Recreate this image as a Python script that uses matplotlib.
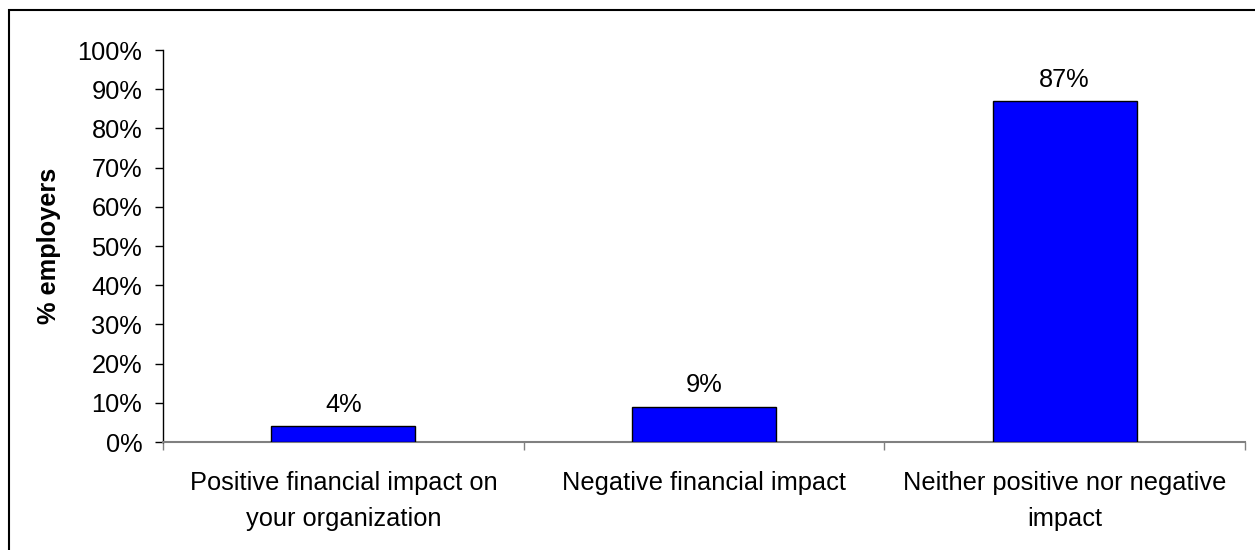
import matplotlib
matplotlib.use("Agg")
import matplotlib.pyplot as plt
from matplotlib.patches import Rectangle
from matplotlib.ticker import FixedLocator, NullFormatter

categories = [
    "Positive financial impact on\nyour organization",
    "Negative financial impact",
    "Neither positive nor negative\nimpact",
]
values = [4, 9, 87]
y_ticks = [0, 10, 20, 30, 40, 50, 60, 70, 80, 90, 100]
y_tick_labels = [f"{t}%" for t in y_ticks]

plt.rcParams["font.family"] = ["Liberation Sans", "DejaVu Sans"]
FS = 18.3

fig = plt.figure(figsize=(12.55, 5.5), dpi=100)
ax = fig.add_axes([163 / 1255, 1 - 442 / 550, (1245 - 163) / 1255, (442 - 50) / 550])

x = list(range(len(categories)))
ax.bar(x, values, width=0.4, color="#0000FF", edgecolor="black", linewidth=1.0, zorder=3)

for xi, v in zip(x, values):
    ax.text(xi, v + 2.4, f"{v}%", ha="center", va="bottom", fontsize=FS)

ax.set_xlim(-0.5, len(categories) - 0.5)
ax.set_ylim(0, 100)
ax.set_yticks(y_ticks)
ax.set_yticklabels(y_tick_labels, fontsize=FS)
ax.tick_params(axis="y", direction="out", length=6, width=1, color="black", pad=9)

# category labels centred under bars, tick marks at category boundaries
ax.set_xticks(x)
ax.set_xticklabels(categories, fontsize=FS, linespacing=1.6)
ax.tick_params(axis="x", which="major", length=0, pad=21)
ax.xaxis.set_minor_locator(FixedLocator([-0.5, 0.5, 1.5, 2.5]))
ax.xaxis.set_minor_formatter(NullFormatter())
ax.tick_params(axis="x", which="minor", direction="out", length=6, width=1, color="#808080")

for side in ("top", "right"):
    ax.spines[side].set_visible(False)
ax.spines["bottom"].set_color("#808080")
ax.spines["bottom"].set_linewidth(1.5)
ax.spines["left"].set_color("black")
ax.spines["left"].set_linewidth(1.0)

ax.set_ylabel("% employers", fontsize=FS, fontweight="bold", labelpad=12)

# outer chart frame
fig.patches.append(Rectangle((9 / 1255, -0.05), 1.1, 1 - 10 / 550 + 0.05,
                             transform=fig.transFigure, fill=False,
                             edgecolor="black", linewidth=1.5))

fig.savefig("out.png", dpi=100)
